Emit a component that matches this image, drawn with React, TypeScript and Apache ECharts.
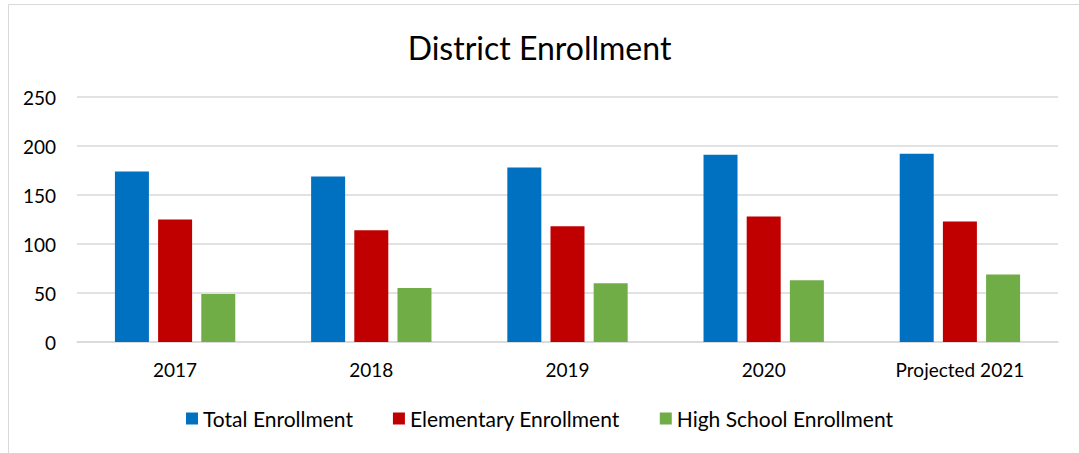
import React, { useEffect, useRef } from "react";
import * as echarts from "echarts";

const categories = ["2017", "2018", "2019", "2020", "Projected 2021"];
const totalEnrollment = [174, 169, 178, 191, 192];
const elementaryEnrollment = [125, 114, 118, 128, 123];
const highSchoolEnrollment = [49, 55, 60, 63, 69];
const seriesNames = ["Total Enrollment", "Elementary Enrollment", "High School Enrollment"];
const colors = ["#0070C0", "#C00000", "#70AD47"];

const FONT = "Lato, 'Open Sans', sans-serif";

export default function App() {
  const ref = useRef<HTMLDivElement>(null);
  useEffect(() => {
    if (!ref.current) return;
    const chart = echarts.init(ref.current, null, { renderer: "svg" });
    const mk = (name: string, data: number[], color: string) => ({
      name,
      type: "bar",
      data,
      barWidth: 34,
      barGap: "27%",
      itemStyle: { color },
    });
    chart.setOption({
      animation: false,
      backgroundColor: "#fff",
      title: {
        text: "District Enrollment",
        left: "center",
        top: 26,
        textStyle: { fontFamily: FONT, fontSize: 32, fontWeight: "normal", color: "#000" },
      },
      graphic: [
        {
          type: "rect",
          shape: { x: 8.5, y: 4.5, width: 1090, height: 460 },
          style: { fill: "none", stroke: "#d9d9d9", lineWidth: 1 },
          silent: true,
        },
      ],
      legend: {
        data: seriesNames,
        top: 403,
        left: "center",
        itemWidth: 12,
        itemHeight: 12,
        itemGap: 40,
        icon: "rect",
        textStyle: { fontFamily: FONT, fontSize: 21, color: "#000", padding: [0, 0, 0, 0] },
      },
      grid: { left: 77, right: 21, top: 97, bottom: 111 },
      xAxis: {
        type: "category",
        data: categories,
        axisLine: { lineStyle: { color: "#d9d9d9", width: 1.5 } },
        axisTick: { show: false },
        axisLabel: { fontFamily: FONT, fontSize: 19, color: "#000", margin: 18 },
      },
      yAxis: {
        type: "value",
        min: 0,
        max: 250,
        interval: 50,
        axisLine: { show: false },
        axisTick: { show: false },
        splitLine: { lineStyle: { color: "#d9d9d9", width: 1.5 } },
        axisLabel: { fontFamily: FONT, fontSize: 19, color: "#000", margin: 21 },
      },
      series: [
        mk(seriesNames[0], totalEnrollment, colors[0]),
        mk(seriesNames[1], elementaryEnrollment, colors[1]),
        mk(seriesNames[2], highSchoolEnrollment, colors[2]),
      ],
    });
    return () => chart.dispose();
  }, []);
  return (
    <div
      ref={ref}
      style={{ position: "fixed", left: 0, top: 0, width: 1079, height: 453 }}
    />
  );
}
